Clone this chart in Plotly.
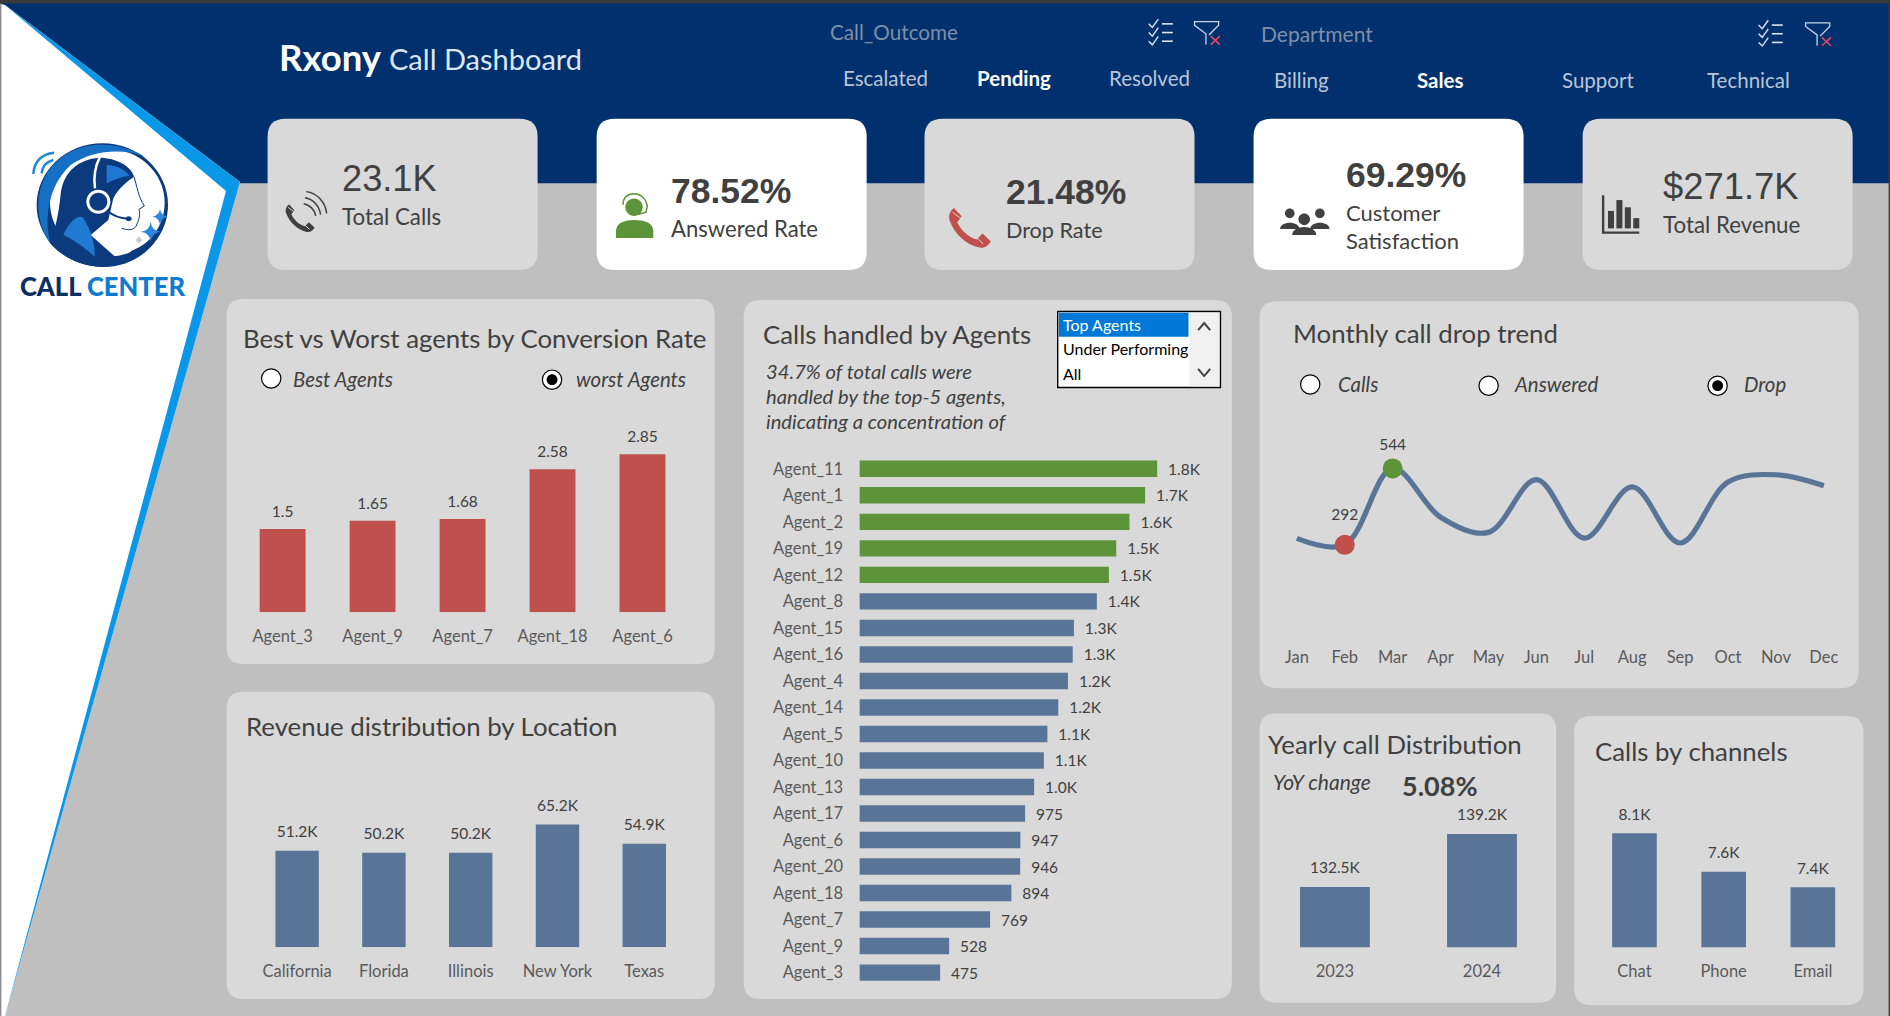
import re
import plotly.graph_objects as go

# ---------- data ----------
worst_agents = ["Agent_3", "Agent_9", "Agent_7", "Agent_18", "Agent_6"]
worst_rates = [1.5, 1.65, 1.68, 2.58, 2.85]
locations = ["California", "Florida", "Illinois", "New York", "Texas"]
location_revenue = [51200, 50200, 50200, 65200, 54900]
agents = ["Agent_11", "Agent_1", "Agent_2", "Agent_19", "Agent_12", "Agent_8", "Agent_15", "Agent_16", "Agent_4",
          "Agent_14", "Agent_5", "Agent_10", "Agent_13", "Agent_17", "Agent_6", "Agent_20", "Agent_18", "Agent_7",
          "Agent_9", "Agent_3"]
agent_calls = [1752, 1681, 1589, 1511, 1468, 1397, 1262, 1255, 1227, 1170, 1106, 1085, 1028, 975, 947, 946, 894, 769,
               528, 475]
months = ["Jan", "Feb", "Mar", "Apr", "May", "Jun", "Jul", "Aug", "Sep", "Oct", "Nov", "Dec"]
monthly_drop = [313, 292, 544, 383, 333, 507, 314, 483, 298, 499, 523, 487]
years = ["2023", "2024"]
year_calls = [132500, 139200]
channels = ["Chat", "Phone", "Email"]
channel_calls = [8100, 7600, 7400]

# ---------- palette ----------
NAVY, BG, PANEL, SKY = "#00306E", "#BFBFBF", "#D9D9D9", "#0A97E8"
BLUE, GREEN, RED = "#587597", "#5D9339", "#C0504D"
DARK, MID = "#404040", "#595959"
SANS, ARIAL = "Lato", "Liberation Sans"
W, H, BW, BH = 1890, 1016, 1568, 843


def base(x, y):
    return x / BW, 1 - y / BH


def pixel(x, y):
    return x / W, 1 - y / H


def logo(x, y):
    return (x / 3) / W, 1 - (120 + y / 3) / H


def conv(d, tf):
    out, pend = [], None
    for t in re.findall(r"[A-Za-z]|-?\d*\.?\d+", d):
        if t.isalpha():
            out.append(t)
        elif pend is None:
            pend = float(t)
        else:
            a, b = tf(pend, float(t))
            out.append(f"{a:.5f} {b:.5f}")
            pend = None
    return " ".join(out)


shapes, notes = [], []


def path(d, fill=None, line=None, w=0, tf=base):
    shapes.append(dict(type="path", xref="paper", yref="paper", layer="below", path=conv(d, tf),
                       fillcolor=fill or "rgba(0,0,0,0)", line=dict(color=line or "rgba(0,0,0,0)", width=w)))


def ell(cx, cy, rx, ry=None):
    ry = ry if ry is not None else rx
    k = 0.5523
    return (f"M {cx - rx} {cy} C {cx - rx} {cy - k * ry} {cx - k * rx} {cy - ry} {cx} {cy - ry} "
            f"C {cx + k * rx} {cy - ry} {cx + rx} {cy - k * ry} {cx + rx} {cy} "
            f"C {cx + rx} {cy + k * ry} {cx + k * rx} {cy + ry} {cx} {cy + ry} "
            f"C {cx - k * rx} {cy + ry} {cx - rx} {cy + k * ry} {cx - rx} {cy} Z")


def rrect(x0, y0, x1, y1, fill, r=14):
    path(f"M {x0 + r} {y0} L {x1 - r} {y0} Q {x1} {y0} {x1} {y0 + r} L {x1} {y1 - r} Q {x1} {y1} {x1 - r} {y1} "
         f"L {x0 + r} {y1} Q {x0} {y1} {x0} {y1 - r} L {x0} {y0 + r} Q {x0} {y0} {x0 + r} {y0} Z", fill)


def rect(x0, y0, x1, y1, fill, line=None, w=0):
    path(f"M {x0} {y0} L {x1} {y0} L {x1} {y1} L {x0} {y1} Z", fill, line, w)


def text(x, y, s, size=15, color=DARK, anchor="left", family=SANS, bold=False, italic=False, weight=None):
    if bold:
        s = f"<b>{s}</b>"
    if italic:
        s = f"<i>{s}</i>"
    fx, fy = base(x, y - 0.5)
    font = dict(size=size, color=color, family=family)
    if weight:
        font["weight"] = weight
    notes.append(dict(xref="paper", yref="paper", x=fx, y=fy, text=s, showarrow=False, xanchor=anchor, yanchor="middle",
                      borderpad=0, font=font))


def handset(cx, cy, s, color, gap):
    pts = ("M 1062 85 L 1085 110 L 1072 128 C 1085 155 1105 172 1130 180 L 1148 162 L 1172 185 C 1165 200 1150 208 1135 203 "
           "C 1100 195 1065 165 1050 125 C 1044 110 1050 95 1062 85 Z")
    tf = lambda a, b: base(cx + (a - 1110) / 65 * s, cy + (b - 142) / 65 * s)
    path(pts, color, tf=tf)
    path("M 1058 98 L 1082 116 M 1128 172 L 1150 193", None, gap, 1, tf=tf)


def radio(x, y, on=False):
    path(ell(x, y, 8), "white", "black", 1.2)
    if on:
        path(ell(x, y, 4.5), "black")


def checklist(x, y):
    for i in range(3):
        yy = y + (i - 1) * 7.2
        path(f"M {x - 10} {yy} L {x - 7} {yy + 3} L {x - 2} {yy - 4}", None, "#DCE6F2", 1.4)
        path(f"M {x + 1} {yy} L {x + 10} {yy}", None, "#DCE6F2", 1.6)


def funnel(x, y):
    path(f"M {x - 0.5} {y + 10} L {x - 0.5} {y + 1} L {x - 10} {y - 6} L {x - 10} {y - 9} L {x + 10} {y - 9} "
         f"L {x + 10} {y - 6} L {x + 2} {y + 2}", None, "#C8D6E8", 1.3)
    path(f"M {x + 3.5} {y + 3} L {x + 11} {y + 10} M {x + 11} {y + 3} L {x + 3.5} {y + 10}", None, "#E84A5F", 1.5)


# ---------- page furniture ----------
rect(0, 0, BW, 152, NAVY)
path("M 1 4 L 5 5 L 240 182 L 5 1016 L 1 1016 Z", "white", tf=pixel)
path("M 5 5 L 240 182 L 5 1016 L 226 191 Z", SKY, tf=pixel)
path("M 0 3 L 1.4 3 L 1.4 1016 L 0 1016 Z", "#8C8C8C", tf=pixel)
path("M 0 0 L 1890 0 L 1890 3.5 L 0 3.5 Z", "#3A3A3A", tf=pixel)
path("M 1888.6 0 L 1890 0 L 1890 1016 L 1888.6 1016 Z", "#3A3A3A", tf=pixel)

# ---------- logo ----------
LOGO_NAVY = "#0C3A7E"
path(ell(307, 255, 197, 185), LOGO_NAVY, tf=logo)
path(ell(322, 248, 172, 162), "white", tf=logo)
path("M 435 110 C 340 55 200 55 135 170 C 100 240 115 320 152 372 C 132 300 142 200 212 135 C 280 88 370 85 435 110 Z",
     "#1570C4", tf=logo)
path("M 298 113 C 235 118 190 155 182 222 C 176 285 165 330 150 370 C 190 415 250 440 310 441 C 400 441 475 385 500 290 "
     "C 480 340 440 375 395 392 L 362 425 L 272 345 L 325 300 L 340 235 C 355 205 380 185 402 170 C 395 140 350 113 298 113 Z",
     LOGO_NAVY, tf=logo)
path("M 402 170 C 410 195 415 232 433 258 L 417 268 C 422 285 416 300 411 312 C 405 332 385 332 365 325", None, LOGO_NAVY,
     1, tf=logo)
path("M 320 135 C 350 135 378 150 388 168 C 365 170 345 178 320 190 Z", "#1E78D2", tf=logo)
path("M 190 345 C 210 300 235 285 248 292 C 275 330 285 375 284 410 C 255 385 225 360 190 345 Z", "#1F7AD1", tf=logo)
path("M 300 110 C 285 140 280 170 285 205", None, "white", 2.5, tf=logo)
path(ell(295, 245, 36), "white", tf=logo)
path(ell(295, 245, 27), LOGO_NAVY, tf=logo)
path("M 322 272 C 340 288 362 295 385 296", None, LOGO_NAVY, 2, tf=logo)
path(ell(386, 296, 9, 7), LOGO_NAVY, tf=logo)
for sx, sy, sr, col in [(480, 290, 23, "#2F86E0"), (452, 335, 30, "#2F86E0"), (417, 360, 12, "#BFC6D0")]:
    path(f"M {sx} {sy - sr} Q {sx + 3} {sy - 3} {sx + sr} {sy} Q {sx + 3} {sy + 3} {sx} {sy + sr} "
         f"Q {sx - 3} {sy + 3} {sx - sr} {sy} Q {sx - 3} {sy - 3} {sx} {sy - sr} Z", col, tf=logo)
path("M 100 162 C 102 125 125 102 162 98", None, "#1E88D8", 2.5, tf=logo)
path("M 125 160 C 127 140 140 125 160 120", None, "#1E88D8", 2.5, tf=logo)
text(85, 237.5, '<span style="color:#0B2F63">CALL</span> <span style="color:#0F7BD0">CENTER</span>', 25.6, anchor="center",
     weight=900)

# ---------- header ----------
text(231, 47.5, "<b>Rxony</b>", 36.5, "white")
text(322, 49, "Call Dashboard", 29, "#DCE6F2")
text(688, 27, "Call_Outcome", 20.7, "#7F8FA8")
text(1045, 28, "Department", 21, "#7F8FA8")
for x, s, b in [(735, "Escalated", False), (841, "Pending", True), (954, "Resolved", False)]:
    text(x, 65, s, 20.5, "white" if b else "#B9C5D6", "center", bold=b)
for x, s, b in [(1079.5, "Billing", False), (1195, "Sales", True), (1326, "Support", False), (1451, "Technical", False)]:
    text(x, 67, s, 20.5, "white" if b else "#B9C5D6", "center", bold=b)
checklist(963, 27)
funnel(1001, 27)
checklist(1469, 28)
funnel(1508, 28)

# ---------- KPI cards ----------
for x, fill in [(222, PANEL), (495, "white"), (767, PANEL), (1040, "white"), (1313, PANEL)]:
    rrect(x, 98.5, x + 224, 224, fill, 15)
text(283, 149, "23.1K", 36.2, DARK, family=ARIAL)
text(283, 180, "Total Calls", 22.3, DARK)
text(556, 159, "78.52%", 35.5, DARK, family=ARIAL, bold=True)
text(556, 190, "Answered Rate", 22.1, DARK)
text(834, 160, "21.48%", 35.5, DARK, family=ARIAL, bold=True)
text(834, 191, "Drop Rate", 21.6, DARK)
text(1116, 146, "69.29%", 35.5, DARK, family=ARIAL, bold=True)
text(1116, 177, "Customer", 22, DARK)
text(1116, 200, "Satisfaction", 22, DARK)
text(1379, 155, "$271.7K", 36.4, DARK, family=ARIAL)
text(1379, 187, "Total Revenue", 22.3, DARK)

handset(249, 180.5, 12.5, DARK, PANEL)
path("M 252 169 C 257 170 261 174 262 179", None, DARK, 1.5)
path("M 253 164 C 260 165 265 171 266 178", None, DARK, 1.5)
path("M 254 159 C 263 160 270 168 271 177", None, DARK, 1.5)
handset(804.7, 188.3, 18, RED, PANEL)
path(ell(526, 172, 7.2), GREEN)
path("M 517 170 C 516 158 535 157 537 171 L 536 176 L 529 178", None, GREEN, 1.5)
path("M 511 197.5 L 511 192 C 511 185 518 182.5 526.5 182.5 C 535 182.5 542 185 542 192 L 542 197.5 Z", GREEN)
for px_, py_, r_ in [(1070, 177, 4), (1095, 177, 4)]:
    path(ell(px_, py_, r_), DARK)
    path(f"M {px_ - 8} 190 C {px_ - 8} 183 {px_ + 8} 183 {px_ + 8} 190 Z", DARK)
path(ell(1082, 182, 4.8), DARK)
path("M 1072 195 C 1072 186 1092 186 1092 195 Z", DARK)
path("M 1329 162 L 1329 194 L 1360 194 L 1360 192 L 1331 192 L 1331 162 Z", DARK)
for bx_, top in [(1334, 175), (1341, 166), (1348, 172), (1355, 181)]:
    rect(bx_, top, bx_ + 5, 189.5, DARK)

# ---------- chart panels ----------
rrect(188, 248, 593, 551, PANEL)
rrect(188, 574, 593, 829, PANEL)
rrect(617, 249, 1022, 829, PANEL)
rrect(1045, 250, 1542, 571, PANEL)
rrect(1045, 592, 1291, 832, PANEL)
rrect(1306, 594, 1546, 834, PANEL)

text(200.5, 281, "Best vs Worst agents by Conversion Rate", 25.8, DARK)
text(203.5, 603, "Revenue distribution by Location", 25.8, DARK)
text(632.5, 278, "Calls handled by Agents", 25.8, DARK)
text(1071.5, 277, "Monthly call drop trend", 25.8, DARK)
text(1051.5, 618, "Yearly call Distribution", 25.8, DARK)
text(1322.5, 624, "Calls by channels", 25.8, DARK)

radio(225, 314)
text(242, 315, "Best Agents", 20.4, DARK, italic=True)
radio(458, 315, True)
text(477, 315, "worst Agents", 20.4, DARK, italic=True)
radio(1087, 319)
text(1109, 319, "Calls", 20.4, DARK, italic=True)
radio(1235, 320)
text(1255, 319, "Answered", 20.4, DARK, italic=True)
radio(1425, 320, True)
text(1446, 319, "Drop", 20.4, DARK, italic=True)

for yy, s in [(308, "34.7% of total calls were"), (329, "handled by the top-5 agents,"),
              (350, "indicating a concentration of")]:
    text(635, yy, s, 20.2, DARK, italic=True)

rect(877.5, 258.5, 1012.5, 321.5, "white", "black", 1.4)
rect(987, 259.5, 1011.5, 320.5, "#F0F0F0")
rect(878.5, 259.5, 986, 279.5, "#0078D7")
text(881, 269.5, "Top Agents", 16, "white")
text(881, 289.5, "Under Performing", 16, "black")
text(881, 310, "All", 16, "black")
path("M 994 274 L 999 268 L 1004 274", None, "#404040", 2)
path("M 994 306 L 999 312 L 1004 306", None, "#404040", 2)

text(1055, 649, "YoY change", 21, DARK, italic=True)
text(1162, 652, "5.08%", 27, DARK, bold=True)

# ---------- traces ----------
fig = go.Figure()
layout = {}
counter = [0]
TICK_FONT = dict(size=16.5, color=MID, family=SANS)
LABEL_FONT = dict(size=15.5, color=DARK, family=SANS)


def add_axes(x0, x1, y_bottom, y_top, xcfg, ycfg):
    counter[0] += 1
    n = counter[0]
    sfx = "" if n == 1 else str(n)
    common = dict(showgrid=False, zeroline=False, showline=False)
    layout["xaxis" + sfx] = dict(domain=[x0 / BW, x1 / BW], anchor="y" + sfx, **common, **xcfg)
    layout["yaxis" + sfx] = dict(domain=[1 - y_bottom / BH, 1 - y_top / BH], anchor="x" + sfx, **common, **ycfg)
    return "x" + sfx, "y" + sfx


def column_chart(cats, vals, labels, color, x0, x1, baseline, top, px_per_unit, zero, gap, lift=15):
    ymax = zero + (baseline - top) / px_per_unit
    xa, ya = add_axes(x0, x1, baseline, top,
                      dict(type="category", range=[-0.5, len(cats) - 0.5], ticks="outside", ticklen=9,
                           tickcolor="rgba(0,0,0,0)", tickfont=TICK_FONT),
                      dict(range=[zero, ymax], visible=False))
    fig.add_trace(go.Bar(x=cats, y=vals, marker=dict(color=color, line=dict(width=0)), width=1 - gap,
                         xaxis=xa, yaxis=ya, hoverinfo="skip"))
    fig.add_trace(go.Scatter(x=cats, y=vals, text=labels, mode="markers+text", textposition="top center",
                             marker=dict(size=lift, opacity=0), textfont=LABEL_FONT,
                             xaxis=xa, yaxis=ya, hoverinfo="skip", cliponaxis=False))


def kfmt(v):
    return f"{v / 1000:.1f}K"


column_chart(worst_agents, worst_rates, [str(v) for v in worst_rates], RED, 197.15, 570.35, 508, 340, 46, 0, 0.49, 11)
column_chart(locations, location_revenue, [kfmt(v) for v in location_revenue], BLUE, 210.5, 570.5, 786, 640,
             1.564 / 1000, 0, 0.5, 14)
column_chart(years, year_calls, [kfmt(v) for v in year_calls], BLUE, 1046.5, 1290.5, 786, 660, 6.57 / 1000, 124900,
             0.525, 14)
column_chart(channels, channel_calls, [kfmt(v) for v in channel_calls], BLUE, 1319, 1541, 786, 660, 64 / 1000, 6620, 0.5, 14)

# horizontal agents chart
xa, ya = add_axes(713, 995, 818, 378, dict(range=[0, 282 / 0.141], visible=False),
                  dict(type="category", range=[19.5, -0.5], ticks="outside", ticklen=12, tickcolor="rgba(0,0,0,0)",
                       tickfont=TICK_FONT))
fig.add_trace(go.Bar(y=agents, x=agent_calls, orientation="h", width=0.62,
                     marker=dict(color=[GREEN] * 5 + [BLUE] * 15, line=dict(width=0)),
                     text=["\u00a0\u00a0" + (kfmt(v) if v >= 1000 else str(v)) for v in agent_calls],
                     textposition="outside", textangle=0, cliponaxis=False, constraintext="none",
                     textfont=LABEL_FONT, xaxis=xa, yaxis=ya, hoverinfo="skip"))

# monthly line
xa, ya = add_axes(1056, 1533, 525.5, 350,
                  dict(type="category", range=[-0.5, 11.5], ticks="outside", ticklen=9, tickcolor="rgba(0,0,0,0)",
                       tickfont=TICK_FONT),
                  dict(range=[0, 175.5 * 3.975], visible=False))
fig.add_trace(go.Scatter(x=months, y=monthly_drop, mode="lines", line=dict(color=BLUE, width=5.2, shape="spline", smoothing=1),
                         xaxis=xa, yaxis=ya, hoverinfo="skip"))
low = monthly_drop.index(min(monthly_drop))
high = monthly_drop.index(max(monthly_drop))
for idx, col, lift in [(low, RED, 32), (high, GREEN, 22)]:
    fig.add_trace(go.Scatter(x=[months[idx]], y=[monthly_drop[idx]], mode="markers", marker=dict(color=col, size=20),
                             xaxis=xa, yaxis=ya, hoverinfo="skip", cliponaxis=False))
    fig.add_trace(go.Scatter(x=[months[idx]], y=[monthly_drop[idx]], mode="markers+text", text=[str(monthly_drop[idx])],
                             textposition="top center", marker=dict(size=lift, opacity=0), textfont=LABEL_FONT,
                             xaxis=xa, yaxis=ya, hoverinfo="skip", cliponaxis=False))

fig.update_layout(width=W, height=H, margin=dict(l=0, r=0, t=0, b=0), autosize=False, paper_bgcolor=BG,
                  plot_bgcolor="rgba(0,0,0,0)", showlegend=False, shapes=shapes, annotations=notes, **layout)
fig.write_html("out.html", config=dict(displayModeBar=False),
               post_script="document.body.style.margin='0';document.body.style.overflow='hidden';")
